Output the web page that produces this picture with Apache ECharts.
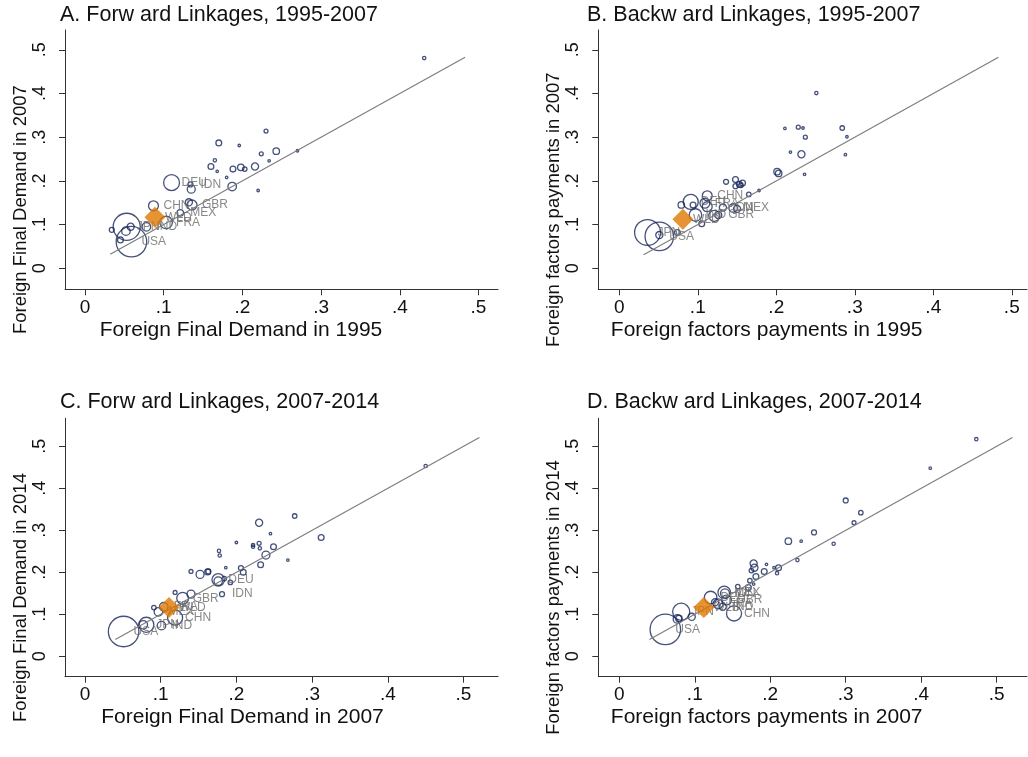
<!DOCTYPE html>
<html><head><meta charset="utf-8">
<script src="https://cdn.jsdelivr.net/npm/echarts@6/dist/echarts.min.js"></script>
<style>html,body{margin:0;padding:0;background:#fff}#c{width:1028px;height:757px}</style>
</head><body><div id="c"></div>
<script>
// ---------- data ----------
const tickValues = [0, 0.1, 0.2, 0.3, 0.4, 0.5];
const tickLabels = ['0', '.1', '.2', '.3', '.4', '.5'];
const panelTitles = ['A. Forw ard Linkages, 1995-2007', 'B. Backw ard Linkages, 1995-2007',
                     'C. Forw ard Linkages, 2007-2014', 'D. Backw ard Linkages, 2007-2014'];
const xTitles = ['Foreign Final Demand in 1995', 'Foreign factors payments in 1995',
                 'Foreign Final Demand in 2007', 'Foreign factors payments in 2007'];
const yTitles = ['Foreign Final Demand in 2007', 'Foreign factors payments in 2007',
                 'Foreign Final Demand in 2014', 'Foreign factors payments in 2014'];

// [x, y, weight, label]
const fwd9507 = [
  [0.431,0.481,2,''],[0.230,0.314,3,''],[0.170,0.287,7,''],[0.196,0.281,1,''],[0.224,0.262,3,''],
  [0.243,0.268,9,''],[0.270,0.269,1,''],[0.234,0.246,1,''],[0.165,0.247,2,''],[0.160,0.233,7,''],
  [0.168,0.222,1,''],[0.188,0.227,7,''],[0.198,0.231,9,''],[0.203,0.227,4,''],[0.216,0.233,11,''],
  [0.180,0.208,1,''],[0.220,0.178,1,''],[0.187,0.187,16,''],[0.110,0.196,59,'DEU'],[0.134,0.192,5,'IDN'],
  [0.135,0.181,14,''],[0.087,0.143,22,'CHN'],[0.132,0.151,11,''],[0.136,0.145,22,'GBR'],[0.121,0.127,9,'MEX'],
  [0.103,0.105,36,'FRA'],[0.053,0.095,177,'JPN'],[0.059,0.061,225,'USA'],[0.034,0.088,5,''],[0.045,0.065,7,''],
  [0.052,0.085,16,''],[0.058,0.095,11,''],[0.078,0.095,16,'IND']
];
const bwd9507 = [
  [0.251,0.401,2,''],[0.211,0.320,1,''],[0.228,0.323,3,''],[0.234,0.321,1,''],[0.284,0.321,4,''],
  [0.290,0.301,1,''],[0.237,0.300,3,''],[0.218,0.266,1,''],[0.232,0.261,11,''],[0.288,0.260,1,''],
  [0.236,0.215,1,''],[0.201,0.221,9,''],[0.203,0.217,9,''],[0.136,0.198,5,''],[0.148,0.203,7,''],
  [0.148,0.188,5,''],[0.153,0.192,7,''],[0.157,0.195,7,''],[0.155,0.190,4,''],[0.165,0.169,4,''],
  [0.178,0.178,1,''],[0.112,0.166,22,'CHN'],[0.091,0.152,53,'DEU'],[0.079,0.145,9,''],[0.094,0.145,7,''],
  [0.109,0.149,22,'FRA'],[0.112,0.141,22,''],[0.097,0.122,36,'IND'],[0.105,0.102,7,''],[0.121,0.120,28,''],
  [0.132,0.139,11,'IDN'],[0.145,0.138,16,'MEX'],[0.150,0.136,11,''],[0.126,0.122,11,'GBR'],
  [0.036,0.082,161,'JPN'],[0.051,0.073,196,'USA'],[0.051,0.076,11,''],[0.074,0.082,7,'']
];
const fwd0714 = [
  [0.450,0.453,2,''],[0.277,0.334,4,''],[0.230,0.318,11,''],[0.312,0.283,7,''],[0.245,0.292,1,''],
  [0.200,0.271,1,''],[0.222,0.265,2,''],[0.222,0.261,2,''],[0.230,0.269,3,''],[0.231,0.257,2,''],
  [0.249,0.261,7,''],[0.239,0.241,14,''],[0.268,0.229,1,''],[0.232,0.218,7,''],[0.177,0.251,2,''],
  [0.178,0.240,2,''],[0.186,0.211,1,''],[0.206,0.210,5,''],[0.209,0.200,7,''],[0.140,0.202,3,''],
  [0.152,0.195,14,''],[0.162,0.201,7,''],[0.163,0.202,5,''],[0.176,0.182,36,'DEU'],[0.176,0.179,16,''],
  [0.184,0.185,4,''],[0.192,0.176,4,''],[0.181,0.148,5,'IDN'],[0.140,0.148,14,''],[0.129,0.138,32,'GBR'],
  [0.119,0.152,3,''],[0.091,0.116,4,''],[0.097,0.106,16,'MEX'],[0.104,0.118,16,'FRA'],[0.119,0.092,53,'CHN'],
  [0.101,0.073,16,'IND'],[0.081,0.075,53,'JPN'],[0.077,0.075,16,''],[0.051,0.059,225,'USA']
];
const bwd0714 = [
  [0.473,0.517,2,''],[0.412,0.448,1,''],[0.300,0.371,5,''],[0.320,0.342,4,''],[0.311,0.318,3,''],
  [0.258,0.295,5,''],[0.224,0.274,9,''],[0.241,0.274,1,''],[0.284,0.268,2,''],[0.236,0.229,2,''],
  [0.211,0.211,7,''],[0.205,0.211,1,''],[0.209,0.198,2,''],[0.195,0.219,1,''],[0.178,0.221,11,''],
  [0.179,0.211,11,''],[0.175,0.204,4,''],[0.192,0.202,7,''],[0.181,0.190,7,''],[0.173,0.180,4,''],
  [0.178,0.172,1,''],[0.157,0.166,4,''],[0.171,0.164,7,''],[0.139,0.152,36,'MEX'],[0.140,0.150,18,'IDN'],
  [0.142,0.134,22,'GBR'],[0.121,0.140,36,'DEU'],[0.131,0.125,22,'FRA'],[0.127,0.129,11,''],[0.137,0.118,11,'IND'],
  [0.152,0.102,53,'CHN'],[0.082,0.106,69,'JPN'],[0.077,0.089,16,''],[0.079,0.090,9,''],[0.096,0.094,11,''],
  [0.061,0.064,225,'USA']
];
const panels = [fwd9507, bwd9507, fwd0714, bwd0714];
// world average (WLD) per panel
const wld = [[0.0889,0.1167],[0.081,0.112],[0.111,0.116],[0.112,0.116]];
// 45-degree line extent per panel
const diag = [[0.032,0.483],[0.031,0.483],[0.040,0.521],[0.040,0.521]];

// ---------- layout ----------
const FONT = 'Liberation Sans, Arial, sans-serif';
const NAVY = '#17255a', ORANGE = '#df7800', AXIS = '#333';
const grids = [
  {left:65, top:30, width:433, height:259.3},
  {left:598.3, top:30, width:428.7, height:259.3},
  {left:65, top:418.3, width:433, height:258.4},
  {left:598.3, top:418.3, width:428.7, height:258.4}
];
const xr = [[-0.02541,0.52478],[-0.02675,0.51937],[-0.02642,0.54557],[-0.02783,0.5402]];
const yr = [[-0.04805,0.54531],[-0.04805,0.54531],[-0.04857,0.56667],[-0.04857,0.56667]];
const titlePos = [{left:60,top:4},{left:587,top:4},{left:60,top:391},{left:587,top:391}];
const xShift = [81, 92, 78, 92];

const fmt = v => { const i = tickValues.findIndex(t => Math.abs(t - v) < 1e-9); return i < 0 ? '' : tickLabels[i]; };
const labelStyle = {show:true, formatter:'{b}', position:'inside', align:'left', verticalAlign:'middle',
                    offset:[10,0], color:'#6a6a6a', fontSize:12, fontFamily:FONT};

const option = {
  backgroundColor:'#fff',
  animation:false,
  title: panelTitles.map((t,i)=>({text:t, left:titlePos[i].left, top:titlePos[i].top, padding:0,
          textStyle:{fontFamily:FONT, fontSize:21.5, fontWeight:'normal', color:'#111'}})),
  grid: grids,
  xAxis: grids.map((g,i)=>({type:'value', gridIndex:i, min:xr[i][0], max:xr[i][1],
      name:xTitles[i], nameLocation:'middle', nameGap:30,
      nameTextStyle:{fontFamily:FONT, fontSize:21, color:'#111', padding:[0,xShift[i],0,0]},
      axisLine:{show:true, onZero:false, lineStyle:{color:AXIS, width:1}},
      axisTick:{show:true, length:6, customValues:tickValues, lineStyle:{color:AXIS}},
      axisLabel:{customValues:tickValues, formatter:fmt, margin:9, fontFamily:FONT, fontSize:19, color:'#111'},
      splitLine:{show:false}})),
  yAxis: grids.map((g,i)=>({type:'value', gridIndex:i, min:yr[i][0], max:yr[i][1],
      name:yTitles[i], nameLocation:'middle', nameGap:35,
      nameTextStyle:{fontFamily:FONT, fontSize:18.5, color:'#111', padding:[0,100,0,0]},
      axisLine:{show:true, onZero:false, lineStyle:{color:AXIS, width:1}},
      axisTick:{show:true, length:6, customValues:tickValues, lineStyle:{color:AXIS}},
      axisLabel:{customValues:tickValues, formatter:fmt, rotate:90, margin:16, fontFamily:FONT, fontSize:18, color:'#111'},
      splitLine:{show:false}})),
  series: []
};

panels.forEach((pts,i)=>{
  option.series.push({
    type:'scatter', xAxisIndex:i, yAxisIndex:i, z:2,
    symbol:'circle',
    symbolSize: v => 2*Math.sqrt(v[2]) + 0.5,
    itemStyle:{color:'rgba(0,0,0,0)', borderColor:NAVY, borderWidth:1.3},
    emphasis:{disabled:true},
    data: pts.map(p=>({value:[p[0],p[1],p[2]], name:p[3],
        label: p[3] ? labelStyle : {show:false}}))
  });
  option.series.push({
    type:'line', xAxisIndex:i, yAxisIndex:i, z:3, symbol:'none', silent:true,
    lineStyle:{color:'#7c7c7c', width:1.1},
    data:[[diag[i][0],diag[i][0]],[diag[i][1],diag[i][1]]]
  });
  option.series.push({
    type:'scatter', xAxisIndex:i, yAxisIndex:i, z:4, symbol:'diamond', symbolSize:21,
    itemStyle:{color:ORANGE}, emphasis:{disabled:true},
    data:[{value:wld[i], name:'WLD', label:labelStyle}]
  });
});

const chart = echarts.init(document.getElementById('c'), null, {renderer:'canvas'});
chart.setOption(option);
</script></body></html>
